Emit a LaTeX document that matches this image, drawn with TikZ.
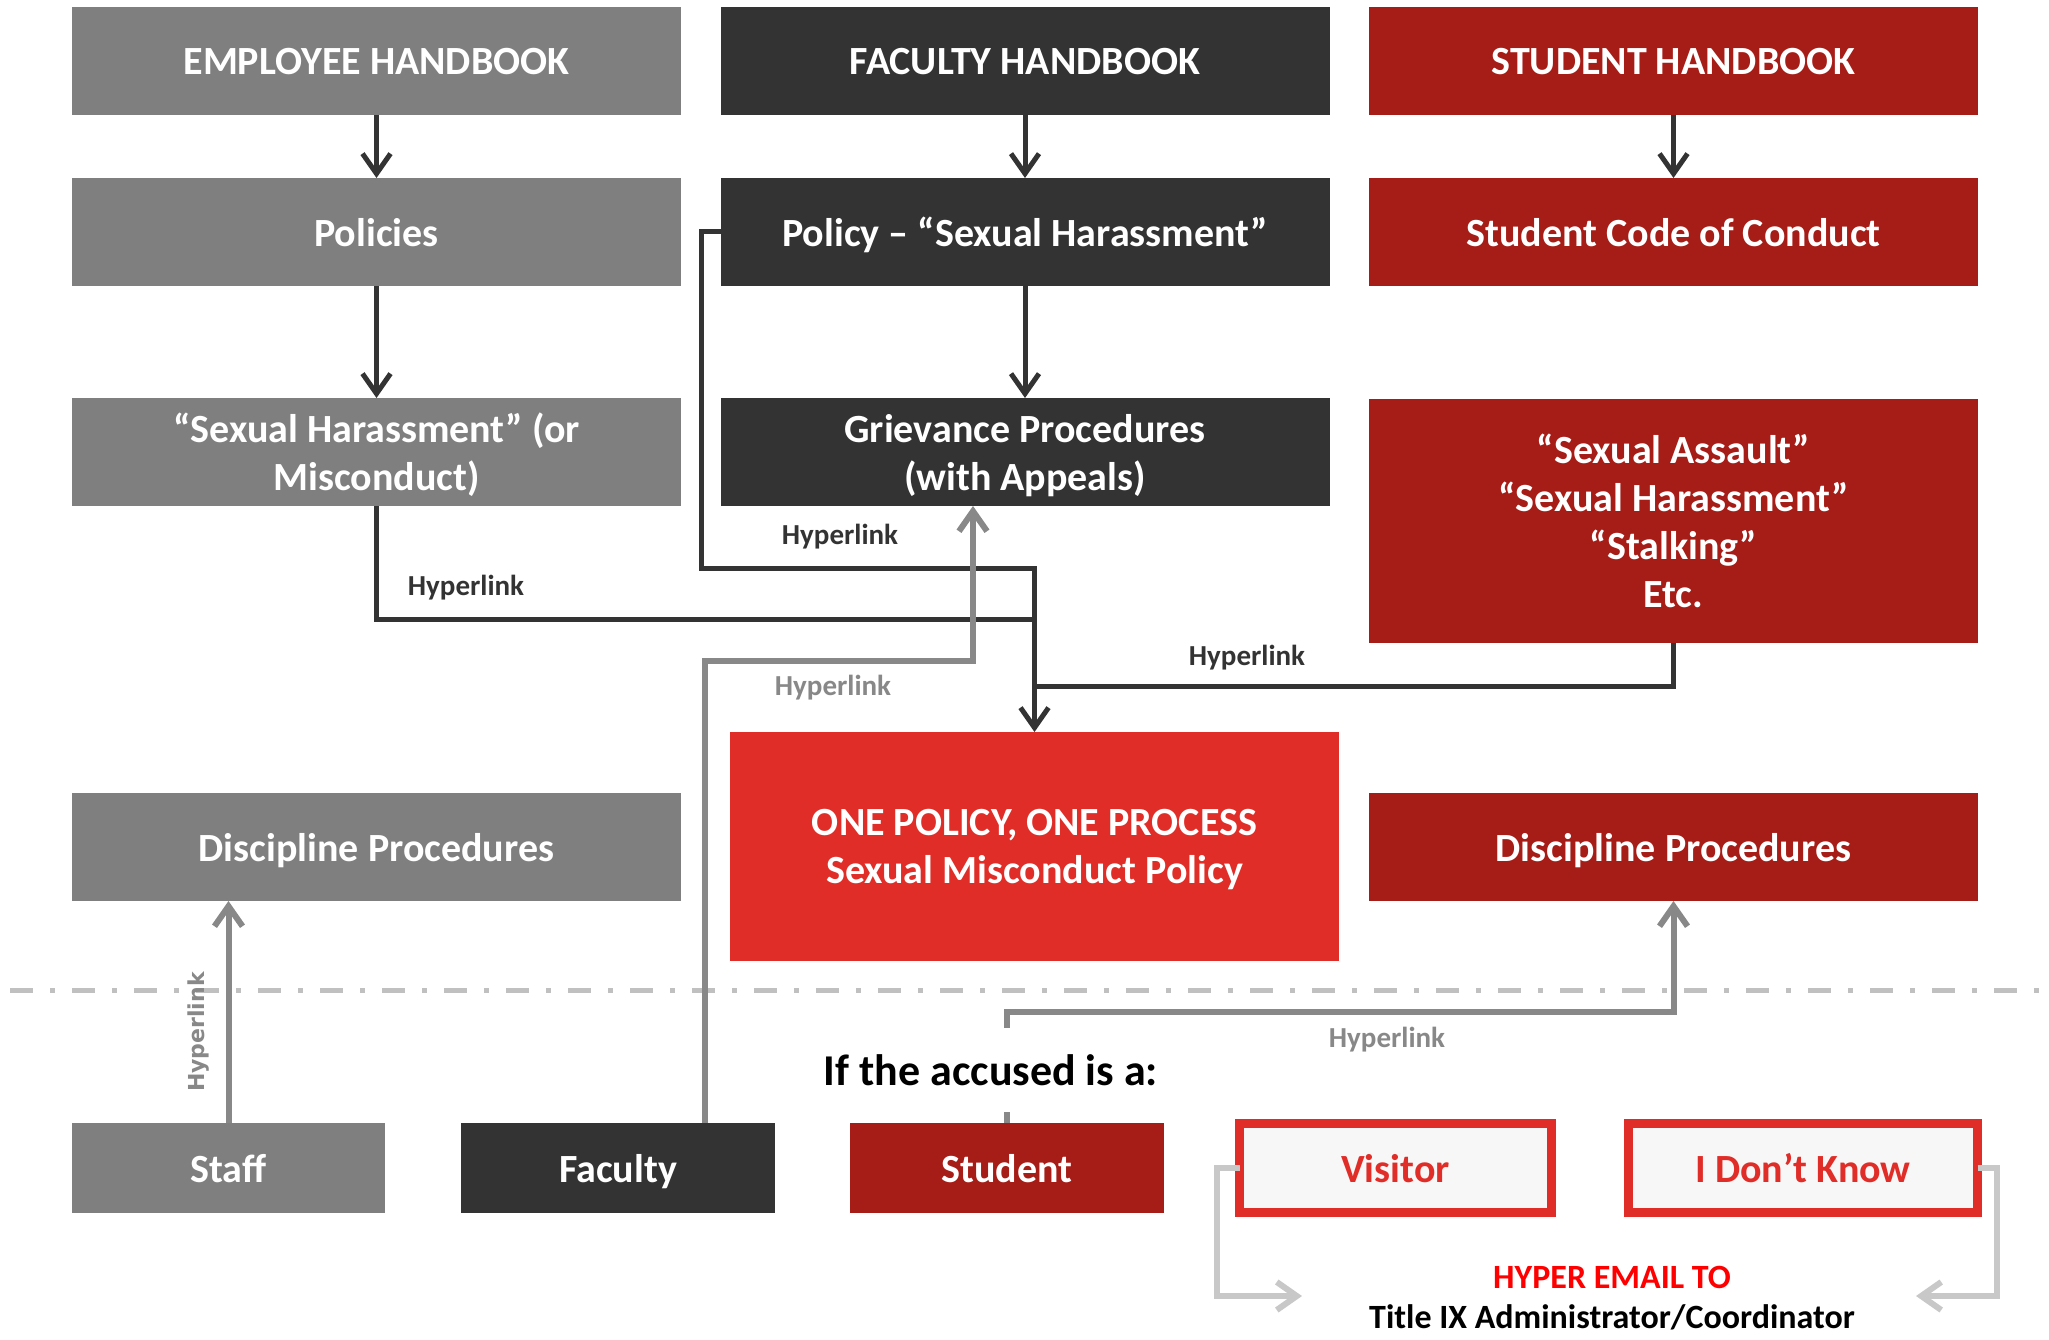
\documentclass[tikz,border=0pt]{standalone}
\usepackage{fontspec}
\setmainfont{Carlito}
\newfontfamily\dejavu{DejaVu Sans}
\usetikzlibrary{arrows.meta}
\definecolor{cgray}{HTML}{7F7F7F}
\definecolor{cdark}{HTML}{333333}
\definecolor{cdred}{HTML}{A61C17}
\definecolor{cred}{HTML}{E12D28}
\definecolor{cline}{HTML}{888888}
\definecolor{clight}{HTML}{C8C8C8}
\definecolor{cdash}{HTML}{C0C0C0}
\definecolor{cvis}{HTML}{F7F7F7}
\begin{document}
\begin{tikzpicture}[x=1pt,y=-1pt,
  box/.style={rectangle,outer sep=0pt,inner sep=0pt,text=white,align=center,
    text depth=-4pt,font=\fontsize{40}{48}\selectfont\bfseries},
  graybox/.style={box,fill=cgray},
  darkbox/.style={box,fill=cdark},
  dredbox/.style={box,fill=cdred},
  redbox/.style={box,fill=cred},
  colbox/.style={minimum width=609pt,minimum height=108pt},
  smallbox/.style={minimum width=314pt,minimum height=90pt},
  outlinebox/.style={box,draw=cred,line width=9pt,fill=cvis,text=cred,
    minimum height=89pt,outer sep=0pt},
  blackarrow/.style={draw=cdark,line width=5pt,-{Straight Barb[length=20pt,width=28pt]}},
  blackline/.style={draw=cdark,line width=5pt},
  grayarrow/.style={draw=cline,line width=6pt,-{Straight Barb[length=20pt,width=28pt]}},
  lightarrow/.style={draw=clight,line width=6pt,-{Straight Barb[length=20pt,width=28pt]}},
  hlabel/.style={font=\fontsize{29}{33}\selectfont\bfseries,text=cdark,inner sep=0pt},
  glabel/.style={hlabel,text=cline},
]
\useasboundingbox (0,0) rectangle (2049,1340);
\fill[white] (0,0) rectangle (2049,1340);

% column 1
\node[graybox,colbox] (emp) at (376.5,61) {EMPLOYEE HANDBOOK};
\node[graybox,colbox] (pol) at (376.5,232) {Policies};
\node[graybox,colbox] (sh) at (376.5,452) {“Sexual Harassment” (or\\Misconduct)};
\node[graybox,colbox] (disl) at (376.5,847) {Discipline Procedures};
% column 2
\node[darkbox,colbox] (fh) at (1025,61) {FACULTY HANDBOOK};
\node[darkbox,colbox] (fpol) at (1025,232) {Policy – “Sexual Harassment”};
\node[darkbox,colbox] (griev) at (1025,452) {Grievance Procedures\\(with Appeals)};
% column 3
\node[dredbox,colbox] (sthb) at (1673.5,61) {STUDENT HANDBOOK};
\node[dredbox,colbox] (scc) at (1673.5,232) {Student Code of Conduct};
\node[dredbox,colbox,minimum height=244pt] (sa) at (1673.5,521)
  {“Sexual Assault”\\“Sexual Harassment”\\“Stalking”\\Etc.};
\node[dredbox,colbox] (disr) at (1673.5,847) {Discipline Procedures};
% central
\node[redbox,minimum width=609pt,minimum height=229pt] (one) at (1034.5,846.5)
  {ONE POLICY, ONE PROCESS\\Sexual Misconduct Policy};

% dashed separator
\coordinate (dl) at (10,990);
\coordinate (dr) at (2049,990);
\draw[cdash,line width=5pt,dash pattern=on 23pt off 17pt on 5pt off 17pt] (dl) -- (dr);

% bottom row
\node[graybox,smallbox,minimum width=313pt] (staff) at (228.5,1168) {Staff};
\node[darkbox,smallbox] (fac) at (618,1168) {Faculty};
\node[dredbox,smallbox] (stu) at (1007,1168) {Student};
\node[outlinebox,minimum width=312pt] (vis) at (1395.5,1168) {Visitor};
\node[outlinebox,minimum width=349pt] (idk) at (1803,1168) {I Don’t Know};

% top-down arrows
\draw[blackarrow] (emp) -- (pol);
\draw[blackarrow] (pol) -- (sh);
\draw[blackarrow] (fh) -- (fpol);
\draw[blackarrow] (fpol) -- (griev);
\draw[blackarrow] (sthb) -- (scc);

% links into the one policy
\draw[blackline] (sh.south) -- (376.5,619) -- (1034.5,619);
\draw[blackline] (sa.south) -- (1673.5,686) -- (1034.5,686);
\draw[blackarrow] (fpol.west) -- (701,232) -- (701,568) -- (1034.5,568) -- (one.north);

% gray hyperlinks
\draw[grayarrow] ([xshift=87pt]fac.north) -- (705,661) -- (973,661) -- (973,506);
\draw[grayarrow] (staff.north) -- (staff.north |- disl.south);
\draw[grayarrow] (stu.north) -- (1007,1012) -- (1673.5,1012) -- (disr.south);

% labels
\node[hlabel] (h1) at (466,588) {Hyperlink};
\node[hlabel] (h2) at (840,537) {Hyperlink};
\node[hlabel] (h3) at (1247,658) {Hyperlink};
\node[glabel] (h4) at (833,688) {Hyperlink};
\node[glabel] (h5) at (1387,1040) {Hyperlink};
\node[glabel,font=\dejavu\fontsize{22}{26}\selectfont\bfseries,rotate=90] (h6) at (199,1032) {Hyperlink};

\node[fill=white,inner xsep=4pt,minimum height=84pt,font=\fontsize{44}{50}\selectfont\bfseries,text=black]
  (acc) at (991,1070) {If the accused is a:};

% email
\node[font=\fontsize{34}{38}\selectfont\bfseries,text=red,inner sep=0pt] (em1) at (1612,1277) {HYPER EMAIL TO};
\node[font=\fontsize{34}{38}\selectfont\bfseries,text=black,inner sep=0pt] (em2) at (1612,1317) {Title IX Administrator/Coordinator};
\coordinate (el) at (1302,1296);
\coordinate (er) at (1916,1296);
\draw[lightarrow] (vis.west) -- (1217,1168) -- (1217,1296) -- (el);
\draw[lightarrow] (idk.east) -- (1997,1168) -- (1997,1296) -- (er);
\end{tikzpicture}
\end{document}
